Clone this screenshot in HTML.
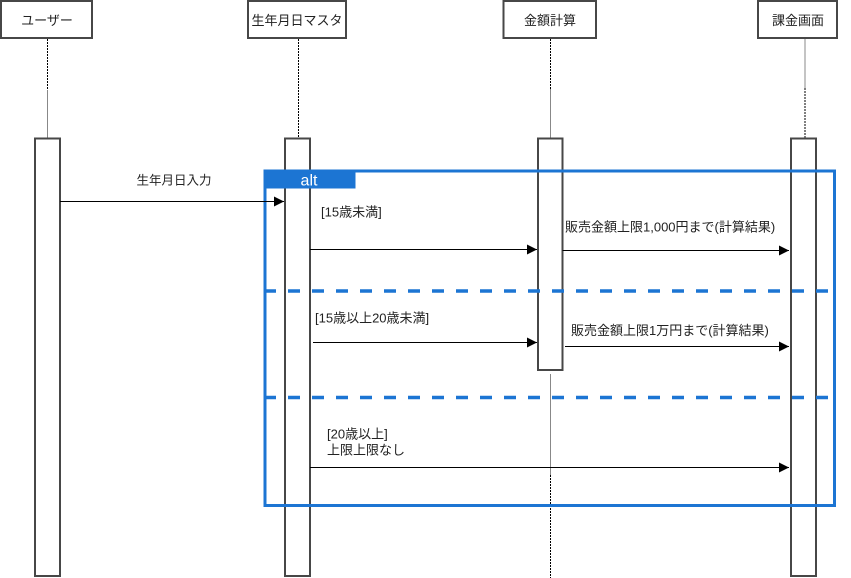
<!DOCTYPE html>
<html><head><meta charset="utf-8">
<style>
html,body{margin:0;padding:0;background:#fff;}
svg{display:block;}
text{font-family:"Liberation Sans","Noto Sans CJK JP",sans-serif;fill:#222;}
</style></head>
<body>
<svg width="851" height="578" viewBox="0 0 851 578" xmlns="http://www.w3.org/2000/svg">
<defs>
<marker id="ah" markerWidth="12" markerHeight="12" refX="10" refY="5" orient="auto" markerUnits="userSpaceOnUse">
<path d="M0,0 L10,5 L0,10 Z" fill="#000"/>
</marker>
</defs>
<!-- header boxes -->
<g fill="#fff" stroke="#474747" stroke-width="2">
<rect x="1" y="1" width="91" height="37"/>
<rect x="248" y="1" width="98" height="37"/>
<rect x="503.5" y="1" width="92.5" height="37"/>
<rect x="758" y="1" width="79" height="37"/>
</g>
<g font-size="13" text-anchor="middle">
<text x="47" y="25">ユーザー</text>
<text x="297" y="25">生年月日マスタ</text>
<text x="550" y="25">金額計算</text>
<text x="798" y="25">課金画面</text>
</g>
<!-- lifelines -->
<g stroke-width="1" fill="none">
<line x1="47.5" y1="39" x2="47.5" y2="90" stroke="#000" stroke-dasharray="2 1"/>
<line x1="47.5" y1="90" x2="47.5" y2="138" stroke="#888"/>
<line x1="298.5" y1="39" x2="298.5" y2="138" stroke="#000" stroke-dasharray="2 1"/>
<line x1="550.5" y1="39" x2="550.5" y2="89" stroke="#000" stroke-dasharray="2 1"/>
<line x1="550.5" y1="89" x2="550.5" y2="138" stroke="#888"/>
<line x1="805" y1="39" x2="805" y2="88" stroke="#888"/>
<line x1="805" y1="88" x2="805" y2="138" stroke="#000" stroke-dasharray="2 1"/>
<line x1="550.5" y1="374" x2="550.5" y2="475" stroke="#888"/>
<line x1="550.5" y1="475" x2="550.5" y2="578" stroke="#000" stroke-dasharray="2 1"/>
</g>
<!-- activations -->
<g fill="#fff" stroke="#474747" stroke-width="2">
<rect x="35" y="138.5" width="25" height="437.5"/>
<rect x="285" y="138.5" width="25" height="437.5"/>
<rect x="538" y="138.5" width="24.5" height="231.5"/>
<rect x="791" y="138.5" width="25" height="437.5"/>
</g>
<!-- alt frame -->
<rect x="265" y="171" width="569.5" height="334.5" fill="none" stroke="#1c75d3" stroke-width="3"/>
<line x1="264" y1="291" x2="834" y2="291" stroke="#1c75d3" stroke-width="3.5" stroke-dasharray="12 12"/>
<line x1="264" y1="397.5" x2="834" y2="397.5" stroke="#1c75d3" stroke-width="3.5" stroke-dasharray="12 12"/>
<rect x="263.5" y="169.5" width="92" height="19" fill="#1c75d3"/>
<text x="309" y="185.5" font-size="16" text-anchor="middle" style="fill:#fff">alt</text>
<!-- messages -->
<g stroke="#000" stroke-width="1" marker-end="url(#ah)">
<line x1="60" y1="201.5" x2="284" y2="201.5"/>
<line x1="310" y1="249.5" x2="537" y2="249.5"/>
<line x1="562.5" y1="250.5" x2="789" y2="250.5"/>
<line x1="313" y1="342.5" x2="537" y2="342.5"/>
<line x1="565" y1="346.5" x2="789" y2="346.5"/>
<line x1="310" y1="467.5" x2="789" y2="467.5"/>
</g>
<g font-size="13">
<text x="174" y="184.5" text-anchor="middle" font-size="12.5">生年月日入力</text>
<text x="321" y="216.5">[15歳未満]</text>
<text x="565" y="231.5">販売金額上限1,000円まで(計算結果)</text>
<text x="315" y="322.5">[15歳以上20歳未満]</text>
<text x="571" y="335">販売金額上限1万円まで(計算結果)</text>
<text x="327" y="438.5">[20歳以上]</text>
<text x="327" y="454.5">上限上限なし</text>
</g>
</svg>
</body></html>
